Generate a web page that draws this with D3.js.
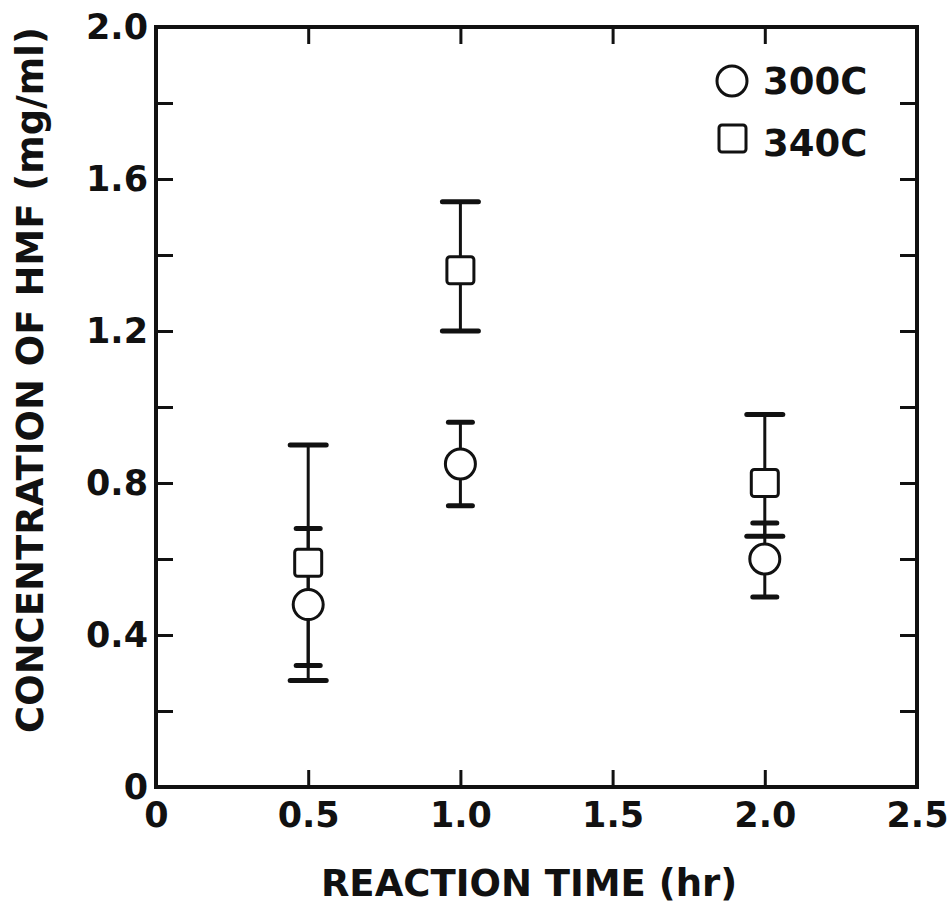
<!DOCTYPE html>
<html>
<head>
<meta charset="utf-8">
<script src="https://cdn.jsdelivr.net/npm/d3@7"></script>
<style>
  body { margin: 0; background: #fff; }
  svg text { font-family: "DejaVu Sans", sans-serif; font-weight: bold; fill: #111; }
</style>
</head>
<body>
<svg id="chart" width="952" height="907"></svg>
<script>
// reaction time (hr)
var times = [0.5, 1.0, 2.0];
// 300C series (circles): value and error bar ends
var c300 = [0.48, 0.85, 0.60];
var c300Lo = [0.32, 0.74, 0.50];
var c300Hi = [0.68, 0.96, 0.695];
// 340C series (squares)
var c340 = [0.59, 1.36, 0.80];
var c340Lo = [0.28, 1.20, 0.66];
var c340Hi = [0.90, 1.54, 0.98];

var xTicks = [0, 0.5, 1.0, 1.5, 2.0, 2.5];
var yTicks = [0, 0.2, 0.4, 0.6, 0.8, 1.0, 1.2, 1.4, 1.6, 1.8, 2.0];
var yLabeled = [0, 0.4, 0.8, 1.2, 1.6, 2.0];

var plotL = 156, plotR = 917, plotT = 27, plotB = 787;

var x = d3.scaleLinear().domain([0, 2.5]).range([plotL, plotR]);
var y = d3.scaleLinear().domain([0, 2.0]).range([plotB, plotT]);

var svg = d3.select("#chart");
var ink = "#111";

var fmt = function(d) {
    return d === 0 ? "0" : d3.format(".1f")(d);
};

// axes with inward ticks
var tick = 17;
svg.append("g")
    .attr("transform", "translate(" + plotL + ",0)")
    .call(d3.axisLeft(y).tickValues(yTicks).tickSize(-tick).tickPadding(8)
        .tickFormat(function(d) {
            return yLabeled.some(function(v) { return Math.abs(v - d) < 1e-9; }) ? fmt(d) : "";
        }))
    .call(function(g) {
        g.select(".domain").remove();
        g.selectAll("line").attr("stroke", ink).attr("stroke-width", 3);
        g.selectAll("text").attr("font-size", 35).attr("font-family", null).attr("fill", ink);
    });

svg.append("g")
    .attr("transform", "translate(" + plotR + ",0)")
    .call(d3.axisRight(y).tickValues(yTicks).tickSize(-tick).tickFormat(""))
    .call(function(g) {
        g.select(".domain").remove();
        g.selectAll("line").attr("stroke", ink).attr("stroke-width", 3);
    });

svg.append("g")
    .attr("transform", "translate(0," + plotB + ")")
    .call(d3.axisBottom(x).tickValues(xTicks).tickSize(-tick).tickPadding(14).tickFormat(fmt))
    .call(function(g) {
        g.select(".domain").remove();
        g.selectAll("line").attr("stroke", ink).attr("stroke-width", 3);
        g.selectAll("text").attr("font-size", 35).attr("font-family", null).attr("fill", ink)
            .attr("dy", "0.75em");
    });

svg.append("g")
    .attr("transform", "translate(0," + plotT + ")")
    .call(d3.axisTop(x).tickValues(xTicks).tickSize(-tick).tickFormat(""))
    .call(function(g) {
        g.select(".domain").remove();
        g.selectAll("line").attr("stroke", ink).attr("stroke-width", 3);
    });

// frame
svg.append("rect")
    .attr("x", plotL).attr("y", plotT)
    .attr("width", plotR - plotL).attr("height", plotB - plotT)
    .attr("fill", "none").attr("stroke", ink).attr("stroke-width", 4);

// error bars
function errorBars(lo, hi, capW) {
    var g = svg.append("g");
    g.selectAll(null).data(times).enter().append("line")
        .attr("x1", function(d) { return x(d); })
        .attr("x2", function(d) { return x(d); })
        .attr("y1", function(d, i) { return y(lo[i]); })
        .attr("y2", function(d, i) { return y(hi[i]); })
        .attr("stroke", ink).attr("stroke-width", 3);
    [lo, hi].forEach(function(arr) {
        g.selectAll(null).data(times).enter().append("line")
            .attr("x1", function(d) { return x(d) - capW / 2; })
            .attr("x2", function(d) { return x(d) + capW / 2; })
            .attr("y1", function(d, i) { return y(arr[i]); })
            .attr("y2", function(d, i) { return y(arr[i]); })
            .attr("stroke", ink).attr("stroke-width", 5)
            .attr("stroke-linecap", "round");
    });
}
errorBars(c340Lo, c340Hi, 36);
errorBars(c300Lo, c300Hi, 24);

// markers
var sq = 27;
svg.append("g").selectAll("rect").data(times).enter().append("rect")
    .attr("x", function(d) { return x(d) - sq / 2; })
    .attr("y", function(d, i) { return y(c340[i]) - sq / 2; })
    .attr("width", sq).attr("height", sq).attr("rx", 3)
    .attr("fill", "#fff").attr("stroke", ink).attr("stroke-width", 3);

svg.append("g").selectAll("circle").data(times).enter().append("circle")
    .attr("cx", function(d) { return x(d); })
    .attr("cy", function(d, i) { return y(c300[i]); })
    .attr("r", 15)
    .attr("fill", "#fff").attr("stroke", ink).attr("stroke-width", 3);

// legend
var legend = svg.append("g");
legend.append("circle").attr("cx", 732).attr("cy", 81).attr("r", 15)
    .attr("fill", "#fff").attr("stroke", ink).attr("stroke-width", 3);
legend.append("text").attr("x", 763).attr("y", 94).attr("font-size", 37).text("300C");
legend.append("rect").attr("x", 719).attr("y", 125).attr("width", 27).attr("height", 27).attr("rx", 3)
    .attr("fill", "#fff").attr("stroke", ink).attr("stroke-width", 3);
legend.append("text").attr("x", 763).attr("y", 156).attr("font-size", 37).text("340C");

// axis titles
svg.append("text")
    .attr("x", 529).attr("y", 896)
    .attr("text-anchor", "middle").attr("font-size", 37)
    .text("REACTION TIME (hr)");

svg.append("text")
    .attr("transform", "translate(43,380) rotate(-90)")
    .attr("text-anchor", "middle").attr("font-size", 37)
    .text("CONCENTRATION OF HMF (mg/ml)");
</script>
</body>
</html>
